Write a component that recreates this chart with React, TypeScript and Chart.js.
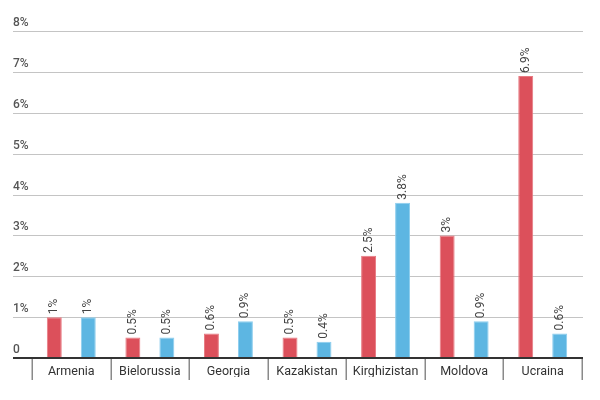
import { useEffect, useRef } from "react"
import { Chart, registerables, Plugin } from "chart.js"

Chart.register(...registerables)

const countries = ["Armenia", "Bielorussia", "Georgia", "Kazakistan", "Kirghizistan", "Moldova", "Ucraina"]
const redValues = [1, 0.5, 0.6, 0.5, 2.5, 3, 6.9]
const blueValues = [1, 0.5, 0.9, 0.4, 3.8, 0.9, 0.6]
const yTicks = [0, 1, 2, 3, 4, 5, 6, 7, 8]
const yTickLabels = ["0", "1%", "2%", "3%", "4%", "5%", "6%", "7%", "8%"]

const FONT = "Roboto, 'Noto Sans', sans-serif"

// grid lines + y labels drawn across the full width, wider than the bar area
const gridPlugin: Plugin<"bar"> = {
  id: "fullGrid",
  beforeDatasetsDraw(chart) {
    const { ctx, chartArea, scales } = chart
    const y = scales.y
    const x = scales.x
    ctx.save()
    yTicks.forEach((t, i) => {
      const py = Math.round(y.getPixelForValue(t)) + 0.5
      if (t !== 0) {
        ctx.strokeStyle = "#c4c4c4"
        ctx.lineWidth = 1
        ctx.beginPath()
        ctx.moveTo(5, py)
        ctx.lineTo(chartArea.right + 1, py)
        ctx.stroke()
      }
      ctx.fillStyle = "#555"
      ctx.font = `500 12px ${FONT}`
      ctx.textAlign = "left"
      ctx.textBaseline = "bottom"
      ctx.fillText(yTickLabels[i], 5, py - 3)
    })

    // category separators below the baseline
    const base = y.getPixelForValue(0)
    const step = x.width / countries.length
    ctx.strokeStyle = "#8a8a8a"
    ctx.lineWidth = 1.5
    for (let i = 0; i <= countries.length; i++) {
      const px = Math.round(x.left + i * step) + 0.25
      ctx.beginPath()
      ctx.moveTo(px, base)
      ctx.lineTo(px, base + 22)
      ctx.stroke()
    }
    ctx.restore()
  },
  afterDatasetsDraw(chart) {
    const { ctx, chartArea, scales } = chart
    const py = scales.y.getPixelForValue(0)
    ctx.save()
    ctx.strokeStyle = "#333"
    ctx.lineWidth = 2
    ctx.beginPath()
    ctx.moveTo(5, py)
    ctx.lineTo(chartArea.right + 1, py)
    ctx.stroke()

    // rotated value labels above the bars
    ctx.fillStyle = "#444"
    ctx.font = `12px ${FONT}`
    ctx.textAlign = "left"
    ctx.textBaseline = "middle"
    chart.data.datasets.forEach((ds, di) => {
      const meta = chart.getDatasetMeta(di)
      meta.data.forEach((bar, i) => {
        const v = ds.data[i] as number
        ctx.save()
        ctx.translate(bar.x, bar.y - 3)
        ctx.rotate(-Math.PI / 2)
        ctx.fillText(v + "%", 0, 0)
        ctx.restore()
      })
    })
    ctx.restore()
  },
}

export default function App() {
  const chartRef = useRef<HTMLCanvasElement>(null)
  const chartInstance = useRef<Chart<"bar"> | null>(null)

  useEffect(() => {
    if (!chartRef.current) return
    if (chartInstance.current) chartInstance.current.destroy()
    const ctx = chartRef.current.getContext("2d")
    if (!ctx) return

    chartInstance.current = new Chart(ctx, {
      type: "bar",
      data: {
        labels: countries,
        datasets: [
          {
            label: "red",
            data: redValues,
            backgroundColor: "#dc505b",
            borderColor: "#e77a82",
            borderWidth: 1,
            categoryPercentage: 0.865,
            barPercentage: 0.44,
          },
          {
            label: "blue",
            data: blueValues,
            backgroundColor: "#5db6e2",
            borderColor: "#8ccdee",
            borderWidth: 1,
            categoryPercentage: 0.865,
            barPercentage: 0.44,
          },
        ],
      },
      options: {
        animation: false,
        responsive: true,
        maintainAspectRatio: false,
        layout: { padding: { top: 23, left: 24, right: 10, bottom: 15 } },
        plugins: {
          legend: { display: false },
          tooltip: { enabled: false },
        },
        scales: {
          y: {
            display: false,
            min: 0,
            max: 8,
          },
          x: {
            grid: { display: false },
            border: { display: false },
            ticks: {
              padding: -2,
              color: "#333",
              font: { family: FONT, size: 12.5 },
              maxRotation: 0,
              autoSkip: false,
            },
          },
        },
      },
      plugins: [gridPlugin],
    })

    return () => {
      if (chartInstance.current) {
        chartInstance.current.destroy()
        chartInstance.current = null
      }
    }
  }, [])

  return (
    <div style={{ width: "100%", height: 384 }}>
      <canvas ref={chartRef} />
    </div>
  )
}
